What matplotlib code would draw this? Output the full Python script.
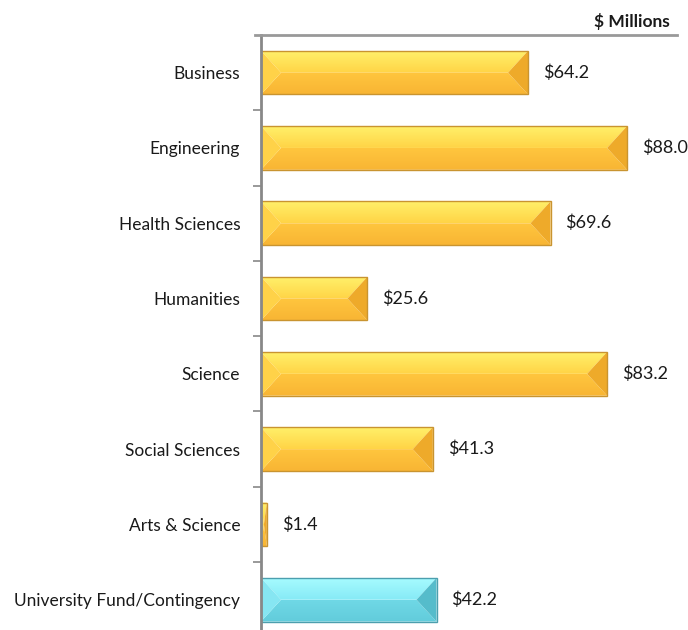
import matplotlib.pyplot as plt
import numpy as np
from matplotlib.patches import Polygon
from matplotlib.colors import LinearSegmentedColormap

categories = ['Business', 'Engineering', 'Health Sciences', 'Humanities',
              'Science', 'Social Sciences', 'Arts & Science',
              'University Fund/Contingency']
values = [64.2, 88.0, 69.6, 25.6, 83.2, 41.3, 1.4, 42.2]
labels = ['$64.2', '$88.0', '$69.6', '$25.6', '$83.2', '$41.3', '$1.4', '$42.2']
kinds = ['faculty'] * 7 + ['fund']

# facet colours for the bevelled bars
styles = {
    'faculty': dict(top=('#FFF06A', '#FFD446'), bot=('#FFC63E', '#F8B534'),
                    left='#FFD248', right='#EEAA2A', edge='#C99430'),
    'fund': dict(top=('#A6FBFF', '#86EAF6'), bot=('#6FD8E6', '#62CCDB'),
                 left='#86E6F2', right='#55BCCB', edge='#4C9FAE'),
}

plt.rcParams['font.family'] = ['Lato', 'DejaVu Sans']

fig = plt.figure(figsize=(6.88, 6.30), dpi=100)
ax = fig.add_axes([261 / 688, 1 - 637.4 / 630, 416 / 688, 602.4 / 630])

n = len(categories)
ax.set_xlim(0, 100)
ax.set_ylim(n - 0.5, -0.5)

px = 100 / 416  # data units per pixel in x
bh = 0.58


def grad_fill(ax, poly, c1, c2, extent):
    cmap = LinearSegmentedColormap.from_list('g', [c1, c2])
    g = np.linspace(0, 1, 64).reshape(-1, 1)
    im = ax.imshow(g, cmap=cmap, aspect='auto', extent=extent,
                   interpolation='bicubic', zorder=2, origin='upper')
    im.set_clip_path(poly)


for i, (v, k) in enumerate(zip(values, kinds)):
    s = styles[k]
    x0, x1 = 0, v
    yt, yb, yc = i - bh / 2, i + bh / 2, i
    b = min(20 * px, v / 2)
    top = Polygon([(x0, yt), (x1, yt), (x1 - b, yc), (x0 + b, yc)],
                  closed=True, facecolor='none', edgecolor='none')
    bot = Polygon([(x0, yb), (x1, yb), (x1 - b, yc), (x0 + b, yc)],
                  closed=True, facecolor='none', edgecolor='none')
    ax.add_patch(top)
    ax.add_patch(bot)
    grad_fill(ax, top, s['top'][0], s['top'][1], (x0, x1, yc, yt))
    grad_fill(ax, bot, s['bot'][0], s['bot'][1], (x0, x1, yb, yc))
    ax.add_patch(Polygon([(x0, yt), (x0 + b, yc), (x0, yb)],
                         facecolor=s['left'], edgecolor='none', zorder=3))
    ax.add_patch(Polygon([(x1, yt), (x1 - b, yc), (x1, yb)],
                         facecolor=s['right'], edgecolor='none', zorder=3))
    ax.add_patch(Polygon([(x0, yt), (x1, yt), (x1, yb), (x0, yb)],
                         facecolor='none', edgecolor=s['edge'], lw=1.0, zorder=4))
    ax.text(v + 15 * px, i, labels[i], va='center', ha='left',
            fontsize=13, color='#1a1a1a')

ax.set_yticks(range(n))
ax.set_yticklabels(categories, fontsize=12.5, color='#1a1a1a')
ax.tick_params(axis='y', which='major', length=0, pad=15)
ax.set_yticks(np.arange(0.5, n - 0.5), minor=True)
ax.tick_params(axis='y', which='minor', length=6, width=1.2, color='#888888')
ax.set_xticks([])

for sp in ['top', 'right', 'bottom']:
    ax.spines[sp].set_visible(False)
ax.spines['left'].set_color('#888888')
ax.spines['left'].set_linewidth(2)
ax.spines['left'].set_zorder(5)

# rule under the units heading
fig.add_artist(plt.Line2D([255 / 688, 677 / 688], [1 - 35 / 630] * 2,
                          color='#999999', lw=2))
fig.text(670 / 688, 1 - 22 / 630, '$ Millions', ha='right', va='center',
         fontsize=12.5, fontweight='bold', color='#1a1a1a')

fig.savefig('out.png', dpi=100)
